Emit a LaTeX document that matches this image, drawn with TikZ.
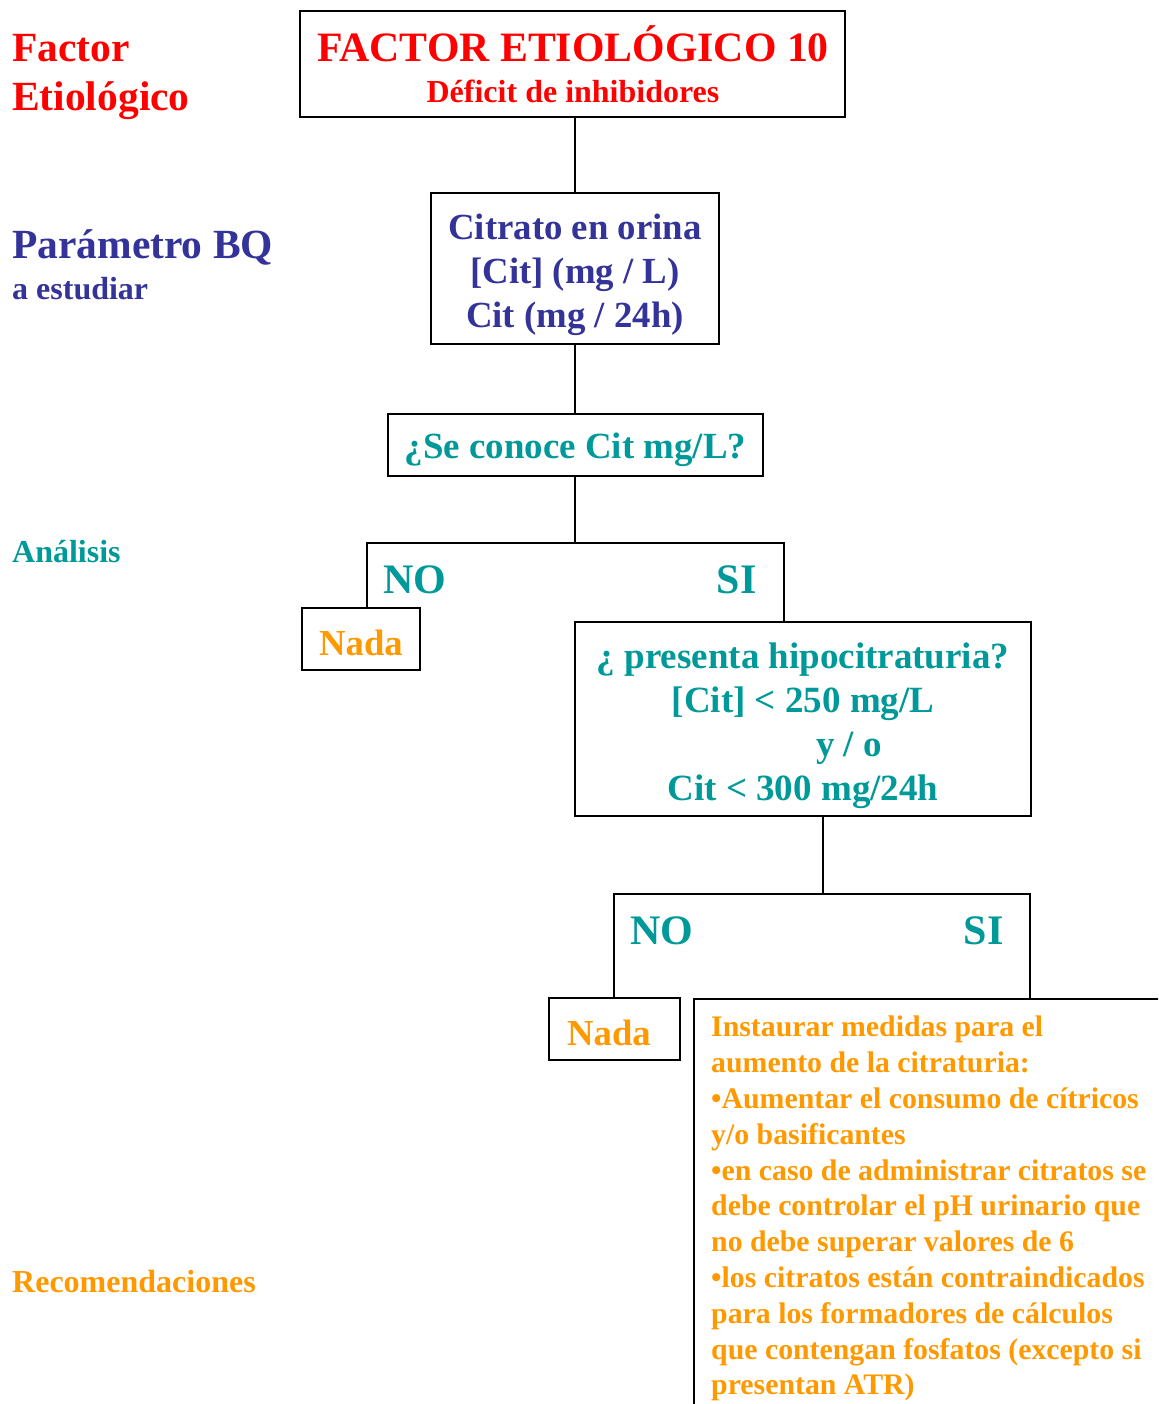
\documentclass[tikz,border=0pt]{standalone}
\usepackage{fontspec}
\setmainfont{Liberation Serif}
\definecolor{cred}{RGB}{255,0,0}
\definecolor{cblue}{RGB}{51,51,153}
\definecolor{cteal}{RGB}{0,153,153}
\definecolor{corange}{RGB}{255,153,0}
\newcommand{\fs}[2]{\fontsize{#1}{#2}\selectfont\bfseries}
\begin{document}
\begin{tikzpicture}[x=1pt,y=-1pt,
  box/.style={draw=black,line width=1.6pt,inner sep=0pt},
  txt/.style={inner sep=0pt,align=center},
  conn/.style={draw=black,line width=1.6pt},
  lab/.style={anchor=west,inner sep=0pt,align=left}]
\clip (0,0) rectangle (1158,1404);
\fill[white] (0,0) rectangle (1158,1404);

% left labels
\node[lab,text=cred,font=\fs{41.5}{49}] (lf) at (12,76.5) {Factor\\Etiológico};
\node[lab,text=cblue,font=\fs{41.5}{48}] (lbq) at (12,247) {Parámetro BQ};
\node[lab,text=cblue,font=\fs{32}{38}] (lbq2) at (12,289) {a estudiar};
\node[lab,text=cteal,font=\fs{32}{38}] (lan) at (12,552) {Análisis};
\node[lab,text=corange,font=\fs{32}{38}] (lrec) at (12,1282) {Recomendaciones};

% boxes
\node[box,minimum width=545,minimum height=106] (top) at (572.5,64) {};
\node[txt,text=cred,font=\fs{41.8}{48}] (t1) at (573,44) {FACTOR ETIOLÓGICO 10};
\node[txt,text=cred,font=\fs{32}{36}] (t2) at (573,91) {Déficit de inhibidores};

\node[box,minimum width=288,minimum height=151] (cit) at (575,268.5) {};
\node[txt,text=cblue,font=\fs{36.8}{44}] (citt) at (575,275)
  {Citrato en orina\\{}[Cit] (mg / L)\\Cit (mg / 24h)};
\node[box,minimum width=375,minimum height=62] (q1) at (575.5,445) {};
\node[txt,text=cteal,font=\fs{36.9}{44}] (q1t) at (575.5,450) {¿Se conoce Cit mg/L?};
\node[box,minimum width=118,minimum height=62] (nada1) at (361,639) {};
\node[txt,text=corange,font=\fs{36.7}{40}] (nada1t) at (361,643) {Nada};
\node[box,minimum width=456,minimum height=194] (q2) at (803,719) {};
\node[txt,text=cteal,font=\fs{37}{44}] (q2t) at (803,726)
  {¿ presenta hipocitraturia?\\{}[Cit] < 250 mg/L\\\hspace*{92pt}y / o\\Cit < 300 mg/24h};
\node[box,minimum width=131,minimum height=62] (nada2) at (614.5,1029) {};
\node[txt,text=corange,font=\fs{36.7}{40}] (nada2t) at (609,1033) {Nada};
\node[box,anchor=north west,minimum width=520,minimum height=460] (rec) at (693,998) {};
\node[anchor=north west,inner sep=0pt,align=left,text=corange,font=\fs{29.8}{35.8}] (rectext) at (711,1016)
  {Instaurar medidas para el\\
   aumento de la citraturia:\\
   •Aumentar el consumo de cítricos\\
   y/o basificantes\\
   •en caso de administrar citratos se\\
   debe controlar el pH urinario que\\
   no debe superar valores de 6\\
   •los citratos están contraindicados\\
   para los formadores de cálculos\\
   que contengan fosfatos (excepto si\\
   presentan ATR)};

% branch labels
\node[txt,text=cteal,font=\fs{42}{48}] (no1) at (415,580) {NO};
\node[txt,text=cteal,font=\fs{42}{48}] (si1) at (736.5,580) {SI};
\node[txt,text=cteal,font=\fs{42}{48}] (no2) at (662,931) {NO};
\node[txt,text=cteal,font=\fs{42}{48}] (si2) at (983.5,931) {SI};

% connectors
\draw[conn] (top.south -| cit.north) -- (cit.north);
\draw[conn] (cit.south) -- (q1.north -| cit.south);
\coordinate (b1) at (575,543);
\coordinate (b1l) at (367,543);
\coordinate (b1r) at (784,543);
\draw[conn] (q1.south -| b1) -- (b1);
\draw[conn] (nada1.north -| b1l) -- (b1l) -- (b1r) -- (q2.north -| b1r);
\coordinate (b2) at (823,894);
\coordinate (b2l) at (614,894);
\coordinate (b2r) at (1030,894);
\draw[conn] (q2.south -| b2) -- (b2);
\draw[conn] (nada2.north -| b2l) -- (b2l) -- (b2r) -- (rec.north -| b2r);
\end{tikzpicture}
\end{document}
